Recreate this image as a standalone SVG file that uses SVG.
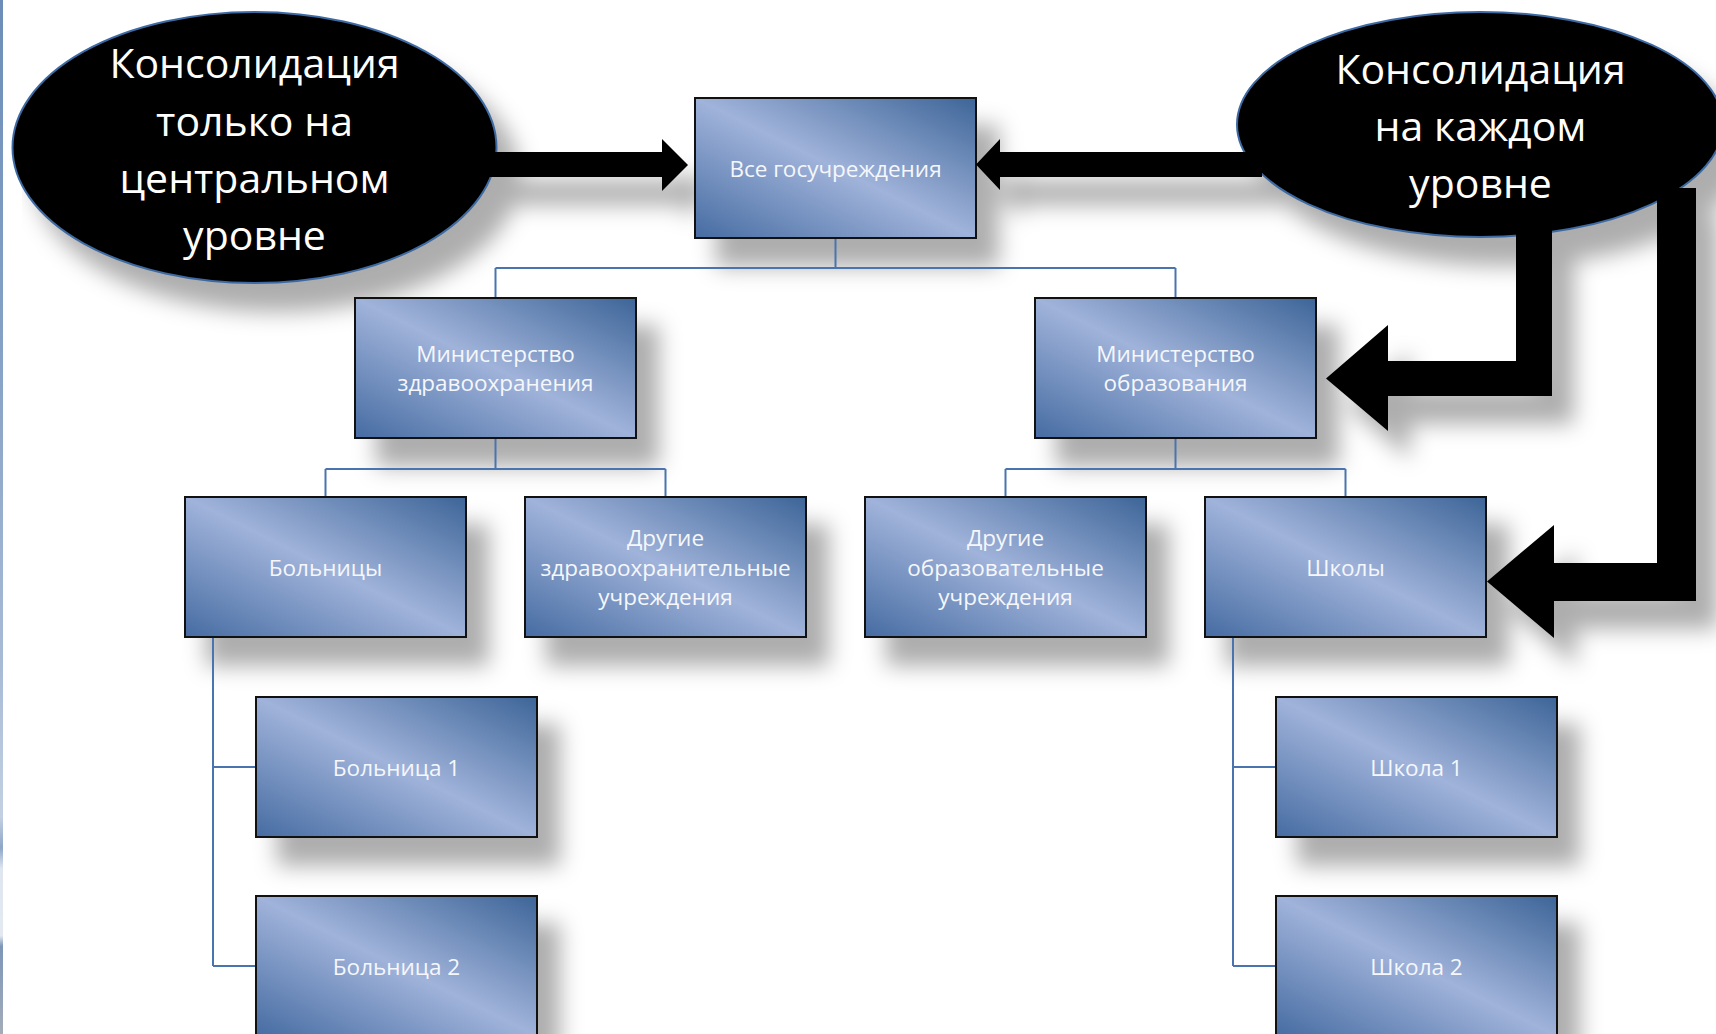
<svg xmlns="http://www.w3.org/2000/svg" xmlns:xlink="http://www.w3.org/1999/xlink" width="1716" height="1034" viewBox="0 0 1716 1034">
  <defs>
    <linearGradient id="boxfill" x1="1" y1="0" x2="0" y2="1">
      <stop offset="0" stop-color="#3d6598"/>
      <stop offset="0.5" stop-color="#a0b3da"/>
      <stop offset="1" stop-color="#466ca2"/>
    </linearGradient>
    <linearGradient id="strip" x1="0" y1="0" x2="0" y2="1">
      <stop offset="0" stop-color="#6d8db8"/>
      <stop offset="0.35" stop-color="#87a2c6"/>
      <stop offset="0.65" stop-color="#a9bcd6"/>
      <stop offset="0.79" stop-color="#c3d0e2"/>
      <stop offset="0.82" stop-color="#8ea6c8"/>
      <stop offset="0.84" stop-color="#dfe6f0"/>
      <stop offset="0.905" stop-color="#e4e9f1"/>
      <stop offset="0.915" stop-color="#7e96b8"/>
      <stop offset="1" stop-color="#a3acb8"/>
    </linearGradient>
    <filter id="shadow" filterUnits="userSpaceOnUse" x="0" y="0" width="1716" height="1034">
      <feGaussianBlur in="SourceAlpha" stdDeviation="11"/>
      <feOffset dx="22" dy="28" result="b"/>
      <feFlood flood-color="#000" flood-opacity="0.32"/>
      <feComposite in2="b" operator="in"/>
    </filter>
  </defs>
  <style>
    .box { fill: url(#boxfill); stroke: #111; stroke-width: 2; }
    .oval { fill: #000; stroke: #3d6aa3; stroke-width: 2; }
    .lbl { font-family: "Open Sans", "Noto Sans", "Liberation Sans", sans-serif; font-size: 22.5px; fill: #f5f7fb; text-anchor: middle; }
    .big { font-family: "Open Sans", "Noto Sans", "Liberation Sans", sans-serif; font-size: 41px; fill: #fff; text-anchor: middle; }
    .conn { fill: none; stroke: #4a74ad; stroke-width: 2; }
    .arrow { fill: #000; }
  </style>

  <rect x="0" y="0" width="1716" height="1034" fill="#fff"/>
  <rect x="0" y="0" width="3" height="1034" fill="url(#strip)"/>

  <!-- shadow layer -->
  <g id="shadows" filter="url(#shadow)">
    <use xlink:href="#boxes"/>
    <use xlink:href="#ovals"/>
    <use xlink:href="#arrows"/>
  </g>

  <g id="connectors">
    <path class="conn" d="M835.5,238 V268 M495.5,268 H1175.5 M495.5,268 V298 M1175.5,268 V298"/>
    <path class="conn" d="M495.5,438 V469 M325.5,469 H665.5 M325.5,469 V497 M665.5,469 V497"/>
    <path class="conn" d="M1175.5,438 V469 M1005.5,469 H1345.5 M1005.5,469 V497 M1345.5,469 V497"/>
    <path class="conn" d="M213,638 V966 M213,767 H256 M213,966 H256"/>
    <path class="conn" d="M1233,638 V966 M1233,767 H1276 M1233,966 H1276"/>
  </g>

  <g id="boxes">
    <g id="n-all">
      <rect class="box" x="695" y="98" width="281" height="140"/>
      <text class="lbl" x="835.5" y="176.5">Все госучреждения</text>
    </g>
    <g id="n-health">
      <rect class="box" x="355" y="298" width="281" height="140"/>
      <text class="lbl" x="495.5" y="361.5">Министерство</text>
      <text class="lbl" x="495.5" y="391">здравоохранения</text>
    </g>
    <g id="n-edu">
      <rect class="box" x="1035" y="298" width="281" height="140"/>
      <text class="lbl" x="1175.5" y="361.5">Министерство</text>
      <text class="lbl" x="1175.5" y="391">образования</text>
    </g>
    <g id="n-hospitals">
      <rect class="box" x="185" y="497" width="281" height="140"/>
      <text class="lbl" x="325.5" y="575.5">Больницы</text>
    </g>
    <g id="n-other-health">
      <rect class="box" x="525" y="497" width="281" height="140"/>
      <text class="lbl" x="665.5" y="546">Другие</text>
      <text class="lbl" x="665.5" y="575.5">здравоохранительные</text>
      <text class="lbl" x="665.5" y="605">учреждения</text>
    </g>
    <g id="n-other-edu">
      <rect class="box" x="865" y="497" width="281" height="140"/>
      <text class="lbl" x="1005.5" y="546">Другие</text>
      <text class="lbl" x="1005.5" y="575.5">образовательные</text>
      <text class="lbl" x="1005.5" y="605">учреждения</text>
    </g>
    <g id="n-schools">
      <rect class="box" x="1205" y="497" width="281" height="140"/>
      <text class="lbl" x="1345.5" y="575.5">Школы</text>
    </g>
    <g id="n-hospital1">
      <rect class="box" x="256" y="697" width="281" height="140"/>
      <text class="lbl" x="396.5" y="775.5">Больница 1</text>
    </g>
    <g id="n-hospital2">
      <rect class="box" x="256" y="896" width="281" height="140"/>
      <text class="lbl" x="396.5" y="974.5">Больница 2</text>
    </g>
    <g id="n-school1">
      <rect class="box" x="1276" y="697" width="281" height="140"/>
      <text class="lbl" x="1416.5" y="775.5">Школа 1</text>
    </g>
    <g id="n-school2">
      <rect class="box" x="1276" y="896" width="281" height="140"/>
      <text class="lbl" x="1416.5" y="974.5">Школа 2</text>
    </g>
  </g>

  <g id="ovals">
    <g id="n-central">
      <ellipse class="oval" cx="254.5" cy="147.5" rx="242" ry="135.5"/>
      <text class="big" x="254.5" y="78">Консолидация</text>
      <text class="big" x="254.5" y="136">только на</text>
      <text class="big" x="254.5" y="193">центральном</text>
      <text class="big" x="254.5" y="250">уровне</text>
    </g>
    <g id="n-every">
      <ellipse class="oval" cx="1480" cy="124.5" rx="243" ry="112.5"/>
      <text class="big" x="1480.5" y="84">Консолидация</text>
      <text class="big" x="1480.5" y="141">на каждом</text>
      <text class="big" x="1480.5" y="198">уровне</text>
    </g>
  </g>

  <g id="arrows">
    <polygon class="arrow" points="470,152 662,152 662,139 688,165 662,191 662,177 470,177"/>
    <polygon class="arrow" points="1262,152 1000,152 1000,139 976,164.5 1000,190 1000,177 1262,177"/>
    <polygon class="arrow" points="1516,225 1552,225 1552,396 1388,396 1388,431 1326,378.5 1388,325 1388,361 1516,361"/>
    <polygon class="arrow" points="1657,188 1696,188 1696,601 1554,601 1554,638 1487,581.5 1554,525 1554,563 1657,563"/>
  </g>
</svg>
